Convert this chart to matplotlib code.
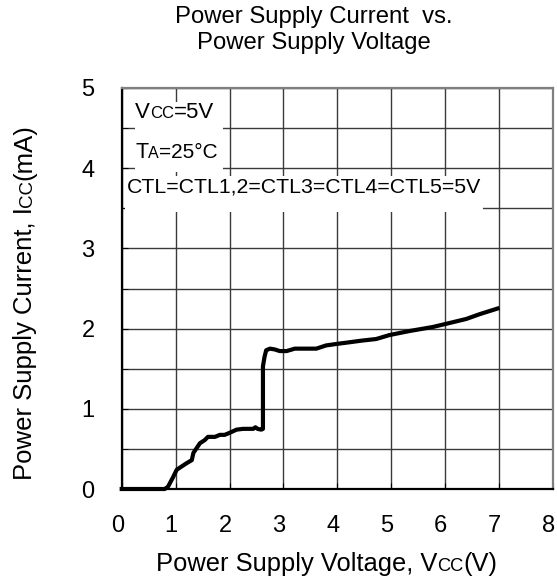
import matplotlib
matplotlib.use("Agg")
import matplotlib.pyplot as plt
from matplotlib.patches import Rectangle
from matplotlib.transforms import IdentityTransform, ScaledTranslation

plt.rcParams["font.family"] = ["Liberation Sans", "DejaVu Sans"]

# Power supply voltage (V) and current (mA)
vcc = [0, 0.80, 0.86, 0.955, 1.02, 1.11, 1.20, 1.30, 1.33, 1.39, 1.45, 1.54,
       1.60, 1.73, 1.82, 1.91, 2.0, 2.13, 2.25, 2.44, 2.48, 2.52, 2.59, 2.62,
       2.62, 2.63, 2.65, 2.68, 2.75, 2.84, 2.93, 3.06, 3.21, 3.43, 3.61, 3.79,
       4.0, 4.23, 4.45, 4.72, 4.97, 5.34, 5.77, 6.02, 6.39, 6.64, 6.97]
icc = [0, 0, 0.03, 0.15, 0.24, 0.28, 0.32, 0.36, 0.45, 0.51, 0.57, 0.61,
       0.65, 0.65, 0.675, 0.675, 0.70, 0.74, 0.75, 0.75, 0.77, 0.75, 0.74, 0.75,
       1.53, 1.57, 1.65, 1.73, 1.75, 1.74, 1.72, 1.72, 1.75, 1.75, 1.75, 1.79,
       1.81, 1.83, 1.85, 1.87, 1.92, 1.97, 2.02, 2.06, 2.12, 2.18, 2.25]

x_ticks = [0, 1, 2, 3, 4, 5, 6, 7, 8]
y_ticks = [0, 1, 2, 3, 4, 5]
y_minor = [0.5, 1.5, 2.5, 3.5, 4.5]

W, H = 557, 582
fig = plt.figure(figsize=(W / 100, H / 100), dpi=100)
ax = fig.add_axes([121.7 / W, (H - 489) / H, (553 - 121.7) / W, (489 - 88) / H])

ax.set_xlim(0, 8)
ax.set_ylim(0, 5)
ax.set_xticks(x_ticks)
ax.set_yticks(y_ticks)
ax.set_yticks(y_minor, minor=True)
ax.tick_params(axis="x", which="both", direction="in", length=4, labelsize=17, pad=18.5)
ax.tick_params(axis="y", which="both", direction="in", length=4, labelsize=17, pad=19.5)
ax.grid(True, which="both", color="#3a3a3a", linewidth=1.0)
ax.set_axisbelow(True)

# x tick labels sit a little left of their ticks in the reference
shift = ScaledTranslation(-4.5 / 100, 0, fig.dpi_scale_trans)
for lab in ax.get_xticklabels():
    lab.set_transform(lab.get_transform() + shift)

for side in ["left", "bottom"]:
    ax.spines[side].set_linewidth(1.6)
    ax.spines[side].set_color("black")
for side in ["top", "right"]:
    ax.spines[side].set_linewidth(1.6)
    ax.spines[side].set_color("#808080")

# white patches behind the condition notes
ax.add_patch(Rectangle((0.25, 3.95), 1.63, 0.87, facecolor="white", edgecolor="none", zorder=1.5))
ax.add_patch(Rectangle((0.06, 3.45), 6.64, 0.45, facecolor="white", edgecolor="none", zorder=1.5))

ax.plot(vcc, icc, color="black", linewidth=3.0, solid_joinstyle="round", clip_on=False, zorder=3)

renderer = fig.canvas.get_renderer()


def rich(x, y, parts, rotation=0, align="left"):
    # parts drawn on one baseline, x/y in figure pixels
    arts = []
    widths = []
    for s, fs in parts:
        t = fig.text(0, 0, s, fontsize=fs, ha="left", va="baseline",
                     rotation_mode="anchor", transform=IdentityTransform(), zorder=5)
        arts.append(t)
        widths.append(t.get_window_extent(renderer).width)
    total = sum(widths)
    start = -total / 2 if align == "center" else 0
    pos = start
    for t, w in zip(arts, widths):
        if rotation == 90:
            t.set_position((x, y + pos))
        else:
            t.set_position((x + pos, y))
        t.set_rotation(rotation)
        pos += w


# title
rich(314, H - 22.7, [("Power Supply Current  vs.", 17.2)], align="center")
rich(314, H - 49.3, [("Power Supply Voltage", 17.2)], align="center")

# axis labels
rich(327, H - 570.7, [("Power Supply Voltage, V", 18.4), ("CC", 13.2), ("(V)", 18.4)], align="center")
rich(31.7, H - 302, [("Power Supply Current, I", 18.5), ("CC", 13.5), ("(mA)", 18.5)],
     rotation=90, align="center")

# condition notes
rich(135, H - 118.3, [("V", 16), ("CC", 12), ("=5V", 16)])
rich(135, H - 158.3, [("T", 15.5), ("A", 11.5), ("=25°C", 15)])
rich(126.7, H - 192.3, [("CTL=CTL1,2=CTL3=CTL4=CTL5=5V", 15.3)])

fig.savefig("out.png", dpi=100)
